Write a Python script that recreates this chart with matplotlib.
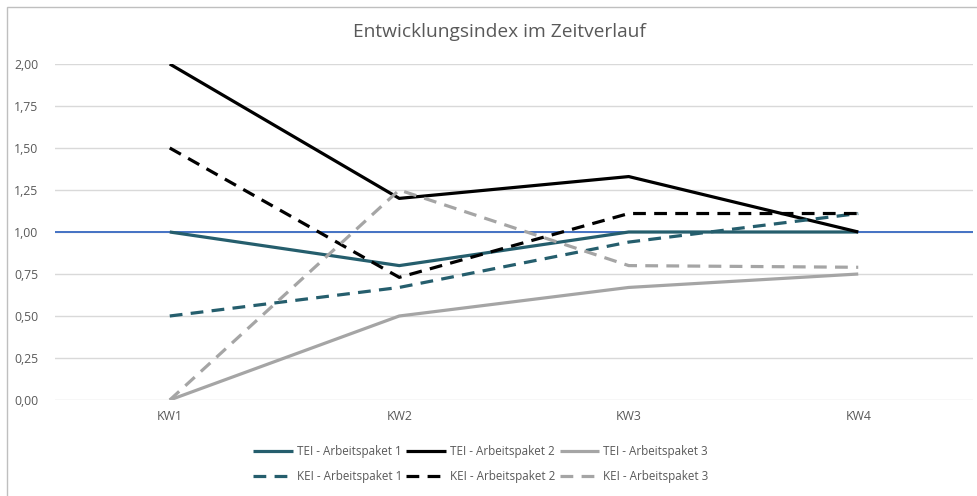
import matplotlib
matplotlib.use("Agg")
import matplotlib.pyplot as plt
import matplotlib.ticker as mticker
from matplotlib.patches import Rectangle

plt.rcParams["font.family"] = ["Open Sans", "DejaVu Sans"]

WEEKS = ["KW1", "KW2", "KW3", "KW4"]

TEI_AP1 = [1.00, 0.80, 1.00, 1.00]
TEI_AP2 = [2.00, 1.20, 1.33, 1.00]
TEI_AP3 = [0.00, 0.50, 0.67, 0.75]
KEI_AP1 = [0.50, 0.67, 0.94, 1.11]
KEI_AP2 = [1.50, 0.73, 1.11, 1.11]
KEI_AP3 = [0.00, 1.25, 0.80, 0.79]
REFERENCE = 1.0

Y_TICKS = [0, 0.25, 0.5, 0.75, 1.0, 1.25, 1.5, 1.75, 2.0]

TEAL = "#255E6D"
BLACK = "#000000"
GREY = "#A5A5A5"
TEXT = "#595959"
DASH = (0, (4, 2.6))

fig = plt.figure(figsize=(9.78, 4.96), dpi=100)
fig.patches.append(Rectangle((7 / 978, -0.1), 1.2, 1 - 7 / 496 + 0.1,
                             transform=fig.transFigure, fill=False,
                             edgecolor="#BFBFBF", linewidth=1.0))

ax = fig.add_axes([55 / 978, (496 - 400) / 496, 918 / 978, 336 / 496])
x = list(range(len(WEEKS)))

ax.axhline(REFERENCE, color="#4472C4", linewidth=1.4, zorder=2)

series = [
    (TEI_AP1, TEAL, "-", "TEI - Arbeitspaket 1"),
    (TEI_AP2, BLACK, "-", "TEI - Arbeitspaket 2"),
    (TEI_AP3, GREY, "-", "TEI - Arbeitspaket 3"),
    (KEI_AP1, TEAL, DASH, "KEI - Arbeitspaket 1"),
    (KEI_AP2, BLACK, DASH, "KEI - Arbeitspaket 2"),
    (KEI_AP3, GREY, DASH, "KEI - Arbeitspaket 3"),
]
lines = []
for vals, col, ls, lab in series:
    ln, = ax.plot(x, vals, color=col, linestyle=ls, linewidth=2.3, label=lab,
                  zorder=3, solid_capstyle="butt", dash_capstyle="butt")
    lines.append(ln)

ax.set_xlim(-0.5, len(WEEKS) - 0.5)
ax.set_ylim(0, 2.0)
ax.set_yticks(Y_TICKS)
ax.yaxis.set_major_formatter(mticker.FuncFormatter(lambda v, p: f"{v:.2f}".replace(".", ",")))
ax.set_xticks(x)
ax.set_xticklabels(WEEKS)
ax.tick_params(axis="both", length=0, labelsize=8.8, colors=TEXT)
ax.tick_params(axis="y", pad=12)
ax.tick_params(axis="x", pad=7)
ax.grid(axis="y", color="#D9D9D9", linewidth=1.0)
ax.set_axisbelow(True)
for s in ax.spines.values():
    s.set_visible(False)

fig.text(499 / 978, 1 - 32 / 496, "Entwicklungsindex im Zeitverlauf",
         ha="center", va="center", fontsize=13.8, color=TEXT)

# legend fills column-wise, so interleave to get TEI in row 1, KEI in row 2
order = [0, 3, 1, 4, 2, 5]
leg = fig.legend([lines[i] for i in order], [series[i][3] for i in order],
                 loc="center", bbox_to_anchor=(481 / 978, 1 - 464 / 496), ncol=3,
                 frameon=False, fontsize=8.4, handlelength=3.4, handletextpad=0.35,
                 columnspacing=0.35, labelspacing=1.1)
for t in leg.get_texts():
    t.set_color(TEXT)

fig.savefig("out.png", dpi=100)
